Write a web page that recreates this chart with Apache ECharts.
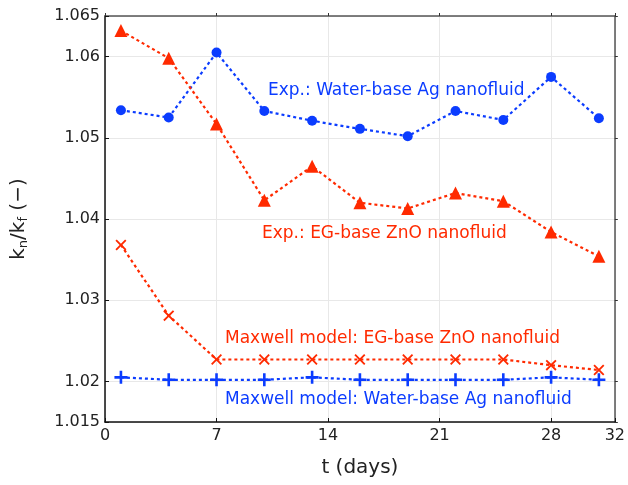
<!DOCTYPE html>
<html>
<head>
<meta charset="utf-8">
<script src="https://cdn.jsdelivr.net/npm/echarts@6/dist/echarts.min.js"></script>
<style>
  html, body { margin: 0; padding: 0; background: #fff; }
  #chart { width: 628px; height: 485px; }
</style>
</head>
<body>
<div id="chart"></div>
<script>
// days of measurement
const days = [1, 4, 7, 10, 13, 16, 19, 22, 25, 28, 31]
// Exp.: Water-base Ag nanofluid
const expAg = [1.0534, 1.0525, 1.0605, 1.0533, 1.0521, 1.0511, 1.0502, 1.0533, 1.0522, 1.0575, 1.0524]
// Exp.: EG-base ZnO nanofluid
const expZnO = [1.0632, 1.0598, 1.0517, 1.0423, 1.0465, 1.0420, 1.0413, 1.0432, 1.0422, 1.0384, 1.0354]
// Maxwell model: EG-base ZnO nanofluid
const maxZnO = [1.0368, 1.0281, 1.0227, 1.0227, 1.0227, 1.0227, 1.0227, 1.0227, 1.0227, 1.0220, 1.0214]
// Maxwell model: Water-base Ag nanofluid
const maxAg = [1.0205, 1.0202, 1.0202, 1.0202, 1.0205, 1.0202, 1.0202, 1.0202, 1.0202, 1.0205, 1.0202]

const BLUE = '#0b3cff'
const RED = '#ff2a00'
const FONT = 'DejaVu Sans'

const plusPath = 'path://M4,0H6V4H10V6H6V10H4V6H0V4H4Z'
const crossPath = 'path://M1.2,0L5,3.8L8.8,0L10,1.2L6.2,5L10,8.8L8.8,10L5,6.2L1.2,10L0,8.8L3.8,5L0,1.2Z'

function pairs(ys) {
  return days.map((d, i) => [d, ys[i]])
}

function makeSeries(name, ys, color, symbol, size) {
  return {
    name: name,
    type: 'line',
    data: pairs(ys),
    symbol: symbol,
    symbolSize: size,
    showAllSymbol: true,
    lineStyle: { color: color, width: 2.2, type: [3, 3] },
    itemStyle: { color: color },
    z: 3
  }
}

function note(text, x, y, color) {
  return {
    type: 'text',
    left: x,
    top: y,
    z: 10,
    style: { text: text, fill: color, fontSize: 17, fontFamily: FONT }
  }
}

const chart = echarts.init(document.getElementById('chart'))

const option = {
  backgroundColor: '#fff',
  animation: false,
  textStyle: { fontFamily: FONT },
  grid: { left: 105, right: 11, top: 16, bottom: 63, containLabel: false },
  xAxis: [{
    type: 'value',
    min: 0,
    max: 32,
    interval: 7,
    name: 't (days)',
    nameLocation: 'middle',
    nameGap: 36,
    nameTextStyle: { fontSize: 20, color: '#222', fontFamily: FONT },
    axisLine: { show: true, lineStyle: { color: '#111', width: 1.5 } },
    axisTick: { show: true, inside: true, length: 4, lineStyle: { color: '#111' } },
    axisLabel: { fontSize: 16, color: '#222', margin: 6, fontFamily: FONT, showMaxLabel: true },
    splitLine: { show: true, lineStyle: { color: '#e8e8e8', width: 1 } }
  }, {
    type: 'value',
    position: 'top',
    min: 0,
    max: 32,
    interval: 7,
    axisLine: { show: true, onZero: false, lineStyle: { color: '#555', width: 1.5 } },
    axisTick: { show: true, length: 3, lineStyle: { color: '#333' } },
    axisLabel: { show: false },
    splitLine: { show: false }
  }],
  yAxis: [{
    type: 'value',
    min: 1.015,
    max: 1.065,
    splitNumber: 5,
    name: '{a|k}{s|n}{a|/k}{s|f}{a| (−)}',
    nameLocation: 'middle',
    nameRotate: 90,
    nameGap: 75,
    nameTextStyle: {
      color: '#222',
      rich: {
        a: { fontSize: 20, color: '#222', fontFamily: FONT },
        s: { fontSize: 13, color: '#222', fontFamily: FONT, padding: [9, 0, 0, 0] }
      }
    },
    axisLine: { show: true, lineStyle: { color: '#111', width: 1.5 } },
    axisTick: { show: true, inside: true, length: 4, lineStyle: { color: '#111' } },
    axisLabel: { fontSize: 16, color: '#222', margin: 5, fontFamily: FONT, showMinLabel: true, showMaxLabel: true },
    splitLine: { show: true, lineStyle: { color: '#e8e8e8', width: 1 } }
  }, {
    type: 'value',
    position: 'right',
    min: 1.015,
    max: 1.065,
    splitNumber: 5,
    axisLine: { show: true, onZero: false, lineStyle: { color: '#555', width: 1.5 } },
    axisTick: { show: true, length: 3, lineStyle: { color: '#333' } },
    axisLabel: { show: false },
    splitLine: { show: false }
  }],
  series: [
    makeSeries('Exp.: Water-base Ag nanofluid', expAg, BLUE, 'circle', 10),
    makeSeries('Exp.: EG-base ZnO nanofluid', expZnO, RED, 'triangle', 13),
    makeSeries('Maxwell model: EG-base ZnO nanofluid', maxZnO, RED, crossPath, 11),
    makeSeries('Maxwell model: Water-base Ag nanofluid', maxAg, BLUE, plusPath, 13)
  ],
  graphic: [
    note('Exp.: Water-base Ag nanofluid', 268, 82, BLUE),
    note('Exp.: EG-base ZnO nanofluid', 262, 225, RED),
    note('Maxwell model: EG-base ZnO nanofluid', 225, 330, RED),
    note('Maxwell model: Water-base Ag nanofluid', 225, 391, BLUE)
  ]
}

chart.setOption(option)
</script>
</body>
</html>
